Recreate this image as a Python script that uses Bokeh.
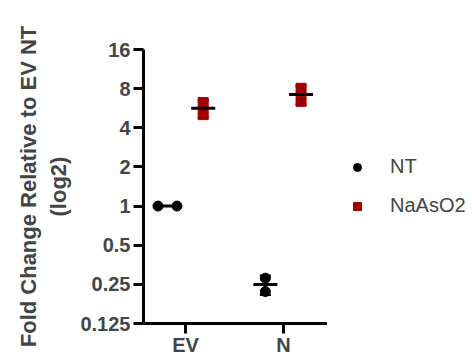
import numpy as np
from bokeh.plotting import figure
from bokeh.layouts import row
from bokeh.models import (Range1d, FixedTicker, CustomJSTickFormatter, ColumnDataSource,
                          Whisker, TeeHead, Legend, LegendItem)
from bokeh.embed import file_html
from bokeh.resources import INLINE

# ---- data ----
categories = ["EV", "N"]
series_names = ["NT", "NaAsO2"]
y_ticks = [0.125, 0.25, 0.5, 1, 2, 4, 8, 16]
y_tick_labels = ["0.125", "0.25", "0.5", "1", "2", "4", "8", "16"]
nt_ev = [1.0, 1.0]
nt_n = [0.279, 0.220]
naaso2_ev = [6.25, 5.05]
naaso2_n = [8.05, 6.39]

series_values = {"NT": [nt_ev, nt_n], "NaAsO2": [naaso2_ev, naaso2_n]}
series_colors = {"NT": "#000000", "NaAsO2": "#A00000"}
series_markers = {"NT": "circle", "NaAsO2": "square"}
series_offsets = {"NT": -0.185, "NaAsO2": 0.18}
tie_spread = 0.194

FONT = "Liberation Sans"

W, H = 327, 358
LW = 472 - W
BL, BT, BB = 143, 49, 34
p = figure(width=W, height=H, output_backend="svg", toolbar_location=None,
           y_axis_type="log", x_range=Range1d(-0.43, 1.45), y_range=Range1d(0.125, 16),
           min_border_left=BL, min_border_right=0, min_border_top=BT, min_border_bottom=BB)
p.outline_line_color = None
p.xgrid.grid_line_color = None
p.ygrid.grid_line_color = None

# legend-only figure placed to the right of the chart
lf = figure(width=LW, height=H, output_backend="svg", toolbar_location=None,
            min_border=0, x_axis_location=None, y_axis_location=None,
            x_range=Range1d(0, 1), y_range=Range1d(0, 1))
lf.outline_line_color = None
lf.xgrid.grid_line_color = None
lf.ygrid.grid_line_color = None

legend_items = []
for name in series_names:
    xs, ys, mx, my, wb, wu, wl = [], [], [], [], [], [], []
    for ci, vals in enumerate(series_values[name]):
        center = ci + series_offsets[name]
        v = np.array(vals, dtype=float)
        n = len(v)
        if n > 1 and np.allclose(v, v[0]):
            pos = [center + (k - (n - 1) / 2) * tie_spread for k in range(n)]
        else:
            pos = [center] * n
        xs += pos
        ys += list(v)
        m = v.mean()
        sd = v.std(ddof=1)
        mx.append(center)
        my.append(m)
        if sd > 0:
            wb.append(center)
            wu.append(m + sd)
            wl.append(m - sd)
    col = series_colors[name]
    wsrc = ColumnDataSource(dict(base=wb, upper=wu, lower=wl))
    w = Whisker(base="base", upper="upper", lower="lower", source=wsrc, dimension="height",
                line_color=col, line_width=2,
                upper_head=TeeHead(size=11, line_color=col, line_width=2.5),
                lower_head=TeeHead(size=11, line_color=col, line_width=2.5))
    p.add_layout(w)
    p.scatter(xs, ys, marker=series_markers[name], size=10, fill_color=col, line_color=col)
    p.scatter(mx, my, marker="dash", size=24, line_color="black", line_width=3)
    # legend swatch: a single undrawn (NaN) point, only its legend glyph shows
    lr = lf.scatter(x=[np.nan], y=[np.nan], marker=series_markers[name], size=8,
                    fill_color=col, line_color=col)
    legend_items.append(LegendItem(label=name, renderers=[lr]))

legend = Legend(items=legend_items, border_line_color=None,
                background_fill_alpha=0, label_text_font=FONT, label_text_font_size="20px",
                glyph_width=20, glyph_height=20, label_height=20, spacing=16,
                padding=4, margin=0, label_standoff=23,
                location=(20, 106))
lf.add_layout(legend, "center")

for ax in (p.xaxis, p.yaxis):
    ax.axis_line_width = 3
    ax.major_tick_line_width = 3
    ax.major_tick_out = 10
    ax.major_tick_in = 0
    ax.minor_tick_line_color = None
    ax.major_label_text_font = FONT
    ax.major_label_text_font_style = "bold"
    ax.major_label_text_font_size = "20px"
    ax.major_label_standoff = 3
p.xaxis.major_label_standoff = 0

p.yaxis.ticker = FixedTicker(ticks=y_ticks)
p.yaxis.formatter = CustomJSTickFormatter(
    args=dict(yt=y_ticks, yl=y_tick_labels),
    code="const i = yt.findIndex(t => Math.abs(t - tick) < 1e-9); return i >= 0 ? yl[i] : '';")
p.xaxis.ticker = FixedTicker(ticks=list(range(len(categories))))
p.xaxis.formatter = CustomJSTickFormatter(args=dict(cats=categories),
                                          code="return cats[Math.round(tick)] || '';")

p.yaxis.axis_label = "Fold Change Relative to EV NT\n(log2)"
p.yaxis.axis_label_text_font = FONT
p.yaxis.axis_label_text_font_style = "bold"
p.yaxis.axis_label_text_font_size = "22px"
p.yaxis.axis_label_standoff = 6

layout = row(p, lf, spacing=0)
open("out.html", "w").write(file_html(layout, INLINE))
